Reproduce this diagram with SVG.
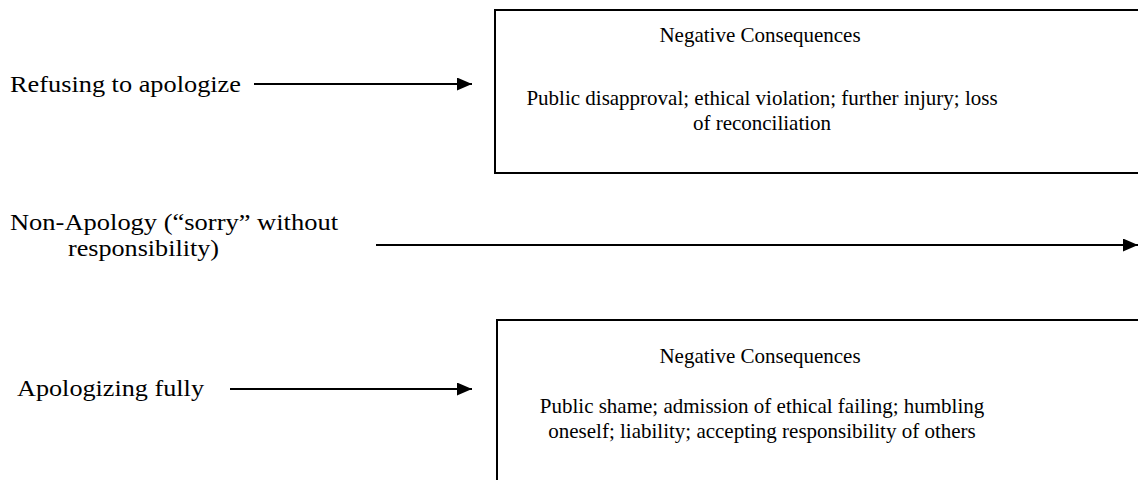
<svg xmlns="http://www.w3.org/2000/svg" width="1138" height="480" viewBox="0 0 1138 480">
<defs>
<style>
.lbl{font-family:"Liberation Serif","Times New Roman",serif;font-size:23px;fill:#000}
.bx{font-family:"Liberation Serif","Times New Roman",serif;font-size:21px;fill:#000;text-anchor:middle}
.box{fill:#fff;stroke:#000;stroke-width:2}
.conn{stroke:#000;stroke-width:2;fill:none}
</style>
<marker id="ah" markerWidth="15" markerHeight="13" refX="15" refY="6.5" orient="auto" markerUnits="userSpaceOnUse">
<path d="M0,0 L15,6.5 L0,13 Z" fill="#000"/>
</marker>
</defs>
<rect width="1138" height="480" fill="#fff"/>
<g id="refusing"><text class="lbl" x="10" y="92" textLength="231" lengthAdjust="spacingAndGlyphs">Refusing to apologize</text></g>
<g id="nonapology"><text class="lbl" x="10" y="230" textLength="328" lengthAdjust="spacingAndGlyphs">Non-Apology (“sorry” without</text><text class="lbl" x="68" y="256" textLength="151" lengthAdjust="spacingAndGlyphs">responsibility)</text></g>
<g id="apologizing"><text class="lbl" x="17" y="396" textLength="187" lengthAdjust="spacingAndGlyphs">Apologizing fully</text></g>
<g id="neg-top">
<rect class="box" x="495" y="10" width="660" height="163"/>
<text class="bx" x="760" y="42">Negative Consequences</text>
<text class="bx" x="762" y="105">Public disapproval; ethical violation; further injury; loss</text>
<text class="bx" x="762" y="130">of reconciliation</text>
</g>
<g id="neg-bottom">
<rect class="box" x="497" y="320" width="660" height="180"/>
<text class="bx" x="760" y="363">Negative Consequences</text>
<text class="bx" x="762" y="413">Public shame; admission of ethical failing; humbling</text>
<text class="bx" x="762" y="438">oneself; liability; accepting responsibility of others</text>
</g>
<g id="connectors">
<line class="conn" x1="254" y1="84" x2="472" y2="84" marker-end="url(#ah)"/>
<line class="conn" x1="376" y1="245" x2="1138" y2="245" marker-end="url(#ah)"/>
<line class="conn" x1="230" y1="389" x2="472" y2="389" marker-end="url(#ah)"/>
</g>
</svg>
